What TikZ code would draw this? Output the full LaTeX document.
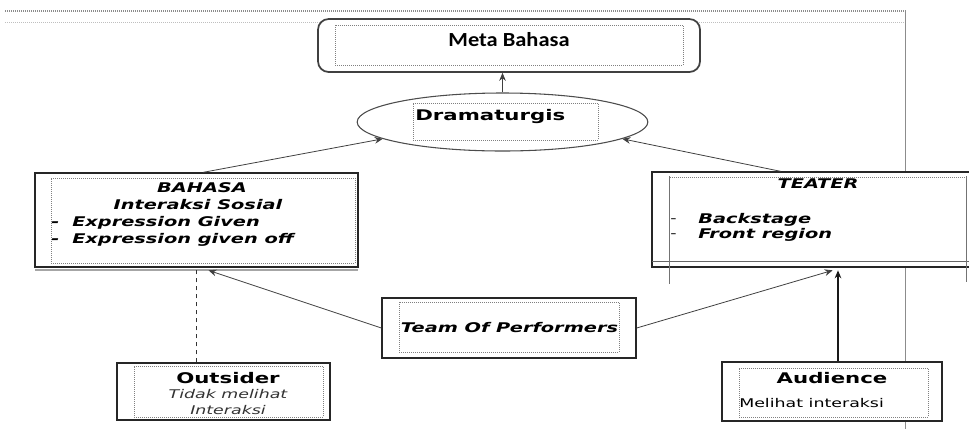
\documentclass[tikz,border=0pt]{standalone}
\usepackage{fontspec}
\setmainfont{DejaVu Sans}
\newfontfamily\widefont[FakeStretch=1.45]{DejaVu Sans}
\newfontfamily\calfont[FakeStretch=1.12]{Carlito}
\usetikzlibrary{shapes.geometric,fit,arrows.meta,calc}
\tikzset{
  outerbox/.style={draw=black!85, line width=1pt, fill=white, inner sep=0pt},
  innerbox/.style={draw=black!50, densely dotted, line width=0.5pt, inner sep=0pt},
  txt/.style={inner sep=0pt, anchor=base, font={\widefont\bfseries\itshape\fontsize{10pt}{12pt}\selectfont}},
  txtl/.style={txt, anchor=base west},
  bigtxt/.style={inner sep=0pt, anchor=base, font={\widefont\bfseries\fontsize{11pt}{13pt}\selectfont}},
  smalltxt/.style={inner sep=0pt, anchor=base, font={\widefont\fontsize{9pt}{11pt}\selectfont}},
  arr/.style={-{Stealth[length=6pt,width=5pt]}, draw=black!75, line width=0.6pt},
  pageline/.style={draw=black!45, line width=0.5pt},
  shadowline/.style={draw=black!35, line width=0.8pt},
}
\begin{document}
\begin{tikzpicture}[x=0.75pt,y=-0.75pt]
\useasboundingbox (0,0) rectangle (969,429);
% page margin lines
\draw[pageline, densely dotted, line width=1pt] (5,11) -- (905,11);
\draw[pageline, densely dotted, draw=black!25] (5,22) -- (905,22);
\draw[pageline] (905,10) -- (905,429);

% Meta Bahasa
\node[outerbox, draw=black!75, line width=1.3pt, rounded corners=8pt, fit={(318,19) (700,72)}] (meta) {};
\node[innerbox, fit={(335,25) (683,65)}] (metain) {};
\node[inner sep=0pt, anchor=base, font={\calfont\bfseries\fontsize{15pt}{17pt}\selectfont}] (tmeta) at (509,46) {Meta Bahasa};

% Dramaturgis
\node[draw=black!70, line width=0.8pt, ellipse, fill=white, minimum width=218pt, minimum height=43.5pt, inner sep=0pt] (drama) at (502.5,122) {};
\node[innerbox, fit={(413,103) (598,140)}] (dramain) {};
\node[inner sep=0pt, anchor=base west, font={\widefont\bfseries\fontsize{11pt}{13pt}\selectfont}] (tdrama) at (415,120) {Dramaturgis};

% BAHASA
\draw[shadowline] (35,270) -- (358,270);
\node[outerbox, fit={(35,173) (358,267)}] (bahasa) {};
\node[innerbox, fit={(51,178) (355,263)}] (bahasain) {};
\node[txt] (tbahasa) at (202,192) {BAHASA};
\node[txt] (tinter) at (198,209) {Interaksi Sosial};
\node[txtl] (dash1) at (51,226) {-};
\node[txtl] (dash2) at (51,243) {-};
\node[txtl] (texp1) at (72,226) {Expression Given};
\node[txtl] (texp2) at (72,243) {Expression given off};

% TEATER
\node[outerbox, fit={(652,172) (995,267)}] (teater) {};
\node[innerbox, fit={(669,177) (966,261)}] (teaterin) {};
\draw[draw=black!60, line width=0.6pt] (652,261) -- (969,261);
\draw[draw=black!55, line width=0.5pt] (669,176) -- (669,284);
\draw[draw=black!55, line width=0.5pt] (966,176) -- (966,282);
\node[txt] (tteater) at (818,188) {TEATER};
\node[txtl, font={\widefont\fontsize{9pt}{11pt}\selectfont}] (dash3) at (670,222) {-};
\node[txtl, font={\widefont\fontsize{9pt}{11pt}\selectfont}] (dash4) at (670,237) {-};
\node[txtl] (tback) at (698,223) {Backstage};
\node[txtl] (tfront) at (698,238) {Front region};

% Team Of Performers
\node[outerbox, fit={(382,298) (636,358)}] (team) {};
\node[innerbox, fit={(399,302) (619,352)}] (teamin) {};
\node[txt] (tteam) at (509.5,332) {Team Of Performers};

% Outsider
\node[outerbox, fit={(117,363) (330,420)}] (outsider) {};
\node[innerbox, fit={(134,366) (323,417)}] (outsiderin) {};
\node[bigtxt] (tout) at (228,383) {Outsider};
\node[smalltxt, font={\widefont\itshape\fontsize{9pt}{11pt}\selectfont}, text=black!80] (ttidak) at (228,398) {Tidak melihat};
\node[smalltxt, font={\widefont\itshape\fontsize{9pt}{11pt}\selectfont}, text=black!80] (tinteraksi) at (228,414) {Interaksi};

% Audience
\node[outerbox, fit={(722,362) (942,421)}] (audience) {};
\node[innerbox, fit={(739,368) (928,417)}] (audiencein) {};
\node[bigtxt] (taud) at (832,383) {Audience};
\node[smalltxt, anchor=base west] (tmelihat) at (739,407) {Melihat interaksi};

% connectors
\draw[arr] (drama.north) -- (drama.north |- meta.south);
\draw[arr] ([xshift=5pt]bahasa.north) -- (drama.188);
\draw[arr] ([xshift=97pt]teater.north west) -- (drama.352);
\draw[arr] (team.west) -- ([xshift=9pt,yshift=-2pt]bahasa.south);
\coordinate (tgt) at ([xshift=136pt,yshift=-2pt]teater.south west);
\draw[arr] (team.east) -- (tgt);
\draw[arr, line width=0.9pt, draw=black!90] ([xshift=4.5pt]audience.north) -- ([xshift=4.5pt]audience.north |- tgt);
\draw[draw=black!80, dashed, line width=0.7pt] ([xshift=-20pt]outsider.north) -- ([xshift=-20pt]outsider.north |- bahasa.south);
\end{tikzpicture}
\end{document}
